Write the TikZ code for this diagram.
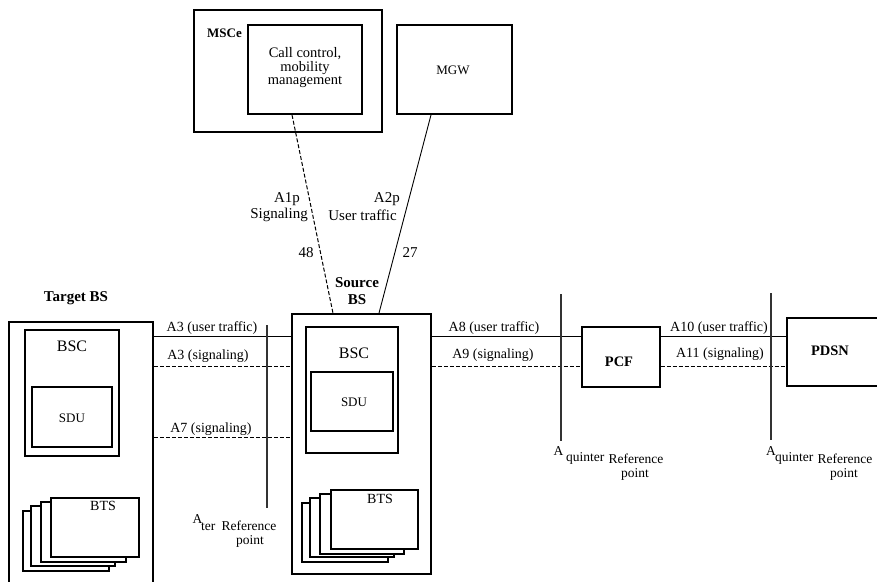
\documentclass[tikz,border=0pt]{standalone}
\usepackage{fontspec}
\setmainfont{Liberation Serif}
\begin{document}
\begin{tikzpicture}[x=1pt,y=-1pt,
  thickbox/.style={draw, line width=1.8pt, rectangle, inner sep=0pt},
  thinbox/.style={draw, line width=1.1pt, rectangle, inner sep=0pt, fill=white},
  lbl/.style={font=\fontsize{14}{16}\selectfont, inner sep=0pt},
  biglbl/.style={font=\fontsize{15}{17}\selectfont, inner sep=0pt},
  blbl/.style={font=\bfseries\fontsize{14.5}{17}\selectfont, inner sep=0pt},
  sig/.style={line width=1pt, dash pattern=on 4pt off 2pt},
  usr/.style={line width=0.9pt},
  refline/.style={line width=1.1pt, black!80},
]
\useasboundingbox (0,0) rectangle (877,581);
\clip (0,0) rectangle (877,581);

% ---- MSCe and MGW
\node[thickbox, minimum width=188pt, minimum height=122pt] (msce) at (288,71) {};
\node[thickbox, minimum width=114pt, minimum height=89pt] (cc) at (305,69.5) {};
\node[blbl, font=\bfseries\fontsize{13}{15}\selectfont] (mscelbl) at (224.5,33) {MSCe};
\node[lbl, align=center, font=\fontsize{14.5}{13.5}\selectfont] (cctext) at (305,68) {Call control,\\mobility\\management};
\node[thickbox, minimum width=115pt, minimum height=89pt] (mgw) at (454.5,69.5) {};
\node[lbl, font=\fontsize{13}{14}\selectfont] (mgwlbl) at (453,70) {MGW};

% ---- Source BS
\node[thickbox, minimum width=139pt, minimum height=260pt] (sbs) at (361.5,444) {};
\node[thickbox, minimum width=92pt, minimum height=126pt] (sbsc) at (352,390) {};
\node[thinbox, minimum width=82pt, minimum height=59pt] (ssdu) at (352,401.5) {};
\node[lbl, font=\fontsize{16}{18}\selectfont] (sbsclbl) at (354,353) {BSC};
\node[lbl, font=\fontsize{13}{15}\selectfont] (ssdulbl) at (354,402) {SDU};
\node[thinbox, minimum width=86pt, minimum height=59pt] (sbts4) at (345,532.5) {};
\node[thinbox, minimum width=84pt, minimum height=59pt] (sbts3) at (352,527.5) {};
\node[thinbox, minimum width=84pt, minimum height=60pt] (sbts2) at (362,524) {};
\node[thinbox, minimum width=87pt, minimum height=59pt] (sbts1) at (374.5,519.5) {};
\node[lbl, font=\fontsize{14}{16}\selectfont] (sbtslbl) at (380,499) {BTS};
\node[blbl, align=center, font=\bfseries\fontsize{15}{17}\selectfont] (sbslbl) at (357,291) {Source\\BS};

% ---- Target BS
\node[thickbox, minimum width=144pt, minimum height=278pt] (tbs) at (81,461) {};
\node[thickbox, minimum width=94pt, minimum height=126pt] (tbsc) at (72,393) {};
\node[thinbox, minimum width=80pt, minimum height=60pt] (tsdu) at (72,417) {};
\node[lbl, font=\fontsize{16}{18}\selectfont] (tbsclbl) at (72,346) {BSC};
\node[lbl, font=\fontsize{13}{15}\selectfont] (tsdulbl) at (72,418) {SDU};
\node[thinbox, minimum width=86pt, minimum height=60pt] (tbts4) at (66,541) {};
\node[thinbox, minimum width=84pt, minimum height=60pt] (tbts3) at (73,536) {};
\node[thinbox, minimum width=85pt, minimum height=60pt] (tbts2) at (83.5,532) {};
\node[thinbox, minimum width=88pt, minimum height=59pt] (tbts1) at (95,527.5) {};
\node[lbl, font=\fontsize{14}{16}\selectfont] (tbtslbl) at (103,506) {BTS};
\node[blbl, font=\bfseries\fontsize{15}{17}\selectfont] (tbslbl) at (76,298) {Target BS};

% ---- PCF and PDSN
\node[thickbox, line width=1.3pt, minimum width=78pt, minimum height=60pt] (pcf) at (621,357) {};
\node[blbl] (pcflbl) at (619,362) {PCF};
\node[thickbox, line width=1.3pt, minimum width=113pt, minimum height=68pt] (pdsn) at (843.5,352) {};
\node[blbl] (pdsnlbl) at (830,351) {PDSN};

% ---- levels
\coordinate (yu) at (0,336.5);
\coordinate (ys) at (0,366);
\coordinate (y7) at (0,437);

% ---- A1p / A2p
\draw[sig] ([xshift=-13pt]cc.south) -- ([xshift=-28.5pt]sbs.north);
\draw[usr] ([xshift=-23.5pt]mgw.south) -- ([xshift=17.5pt]sbs.north);
\node[biglbl] (a1p) at (287,199) {A1p};
\node[biglbl, anchor=east] (a1sig) at (308,215) {Signaling};
\node[biglbl] (n48) at (306,253) {48};
\node[biglbl, anchor=east] (a2p) at (400,199) {A2p};
\node[biglbl, anchor=east] (a2usr) at (397,215) {User traffic};
\node[biglbl] (n27) at (410,253) {27};

% ---- Target <-> Source
\draw[usr] (tbs.east |- yu) -- (sbs.west |- yu);
\draw[sig] (tbs.east |- ys) -- (sbs.west |- ys);
\draw[sig] (tbs.east |- y7) -- (sbs.west |- y7);
\node[lbl] (a3u) at (212,328) {A3 (user traffic)};
\node[lbl] (a3s) at (208,356) {A3 (signaling)};
\node[lbl] (a7s) at (211,429) {A7 (signaling)};

% ---- Source <-> PCF <-> PDSN
\draw[usr] (sbs.east |- yu) -- (pcf.west |- yu);
\draw[sig] (sbs.east |- ys) -- (pcf.west |- ys);
\draw[usr] (pcf.east |- yu) -- (pdsn.west |- yu);
\draw[sig] (pcf.east |- ys) -- (pdsn.west |- ys);
\node[lbl] (a8u) at (494,328) {A8 (user traffic)};
\node[lbl] (a9s) at (493,355) {A9 (signaling)};
\node[lbl] (a10u) at (719,328) {A10 (user traffic)};
\node[lbl] (a11s) at (720,354) {A11 (signaling)};

% ---- reference points
\coordinate (atertop) at (267,325);
\coordinate (aterbot) at (267,508);
\draw[refline] (atertop) -- (aterbot);
\coordinate (aq1top) at (561,294);
\coordinate (aq1bot) at (561,441);
\draw[refline] (aq1top) -- (aq1bot);
\coordinate (aq2top) at (771,293);
\coordinate (aq2bot) at (771,440);
\draw[refline] (aq2top) -- (aq2bot);

\tikzset{rlbl/.style={font=\fontsize{13.5}{15}\selectfont, inner sep=0pt, anchor=base}}
\node[rlbl] (aterA) at (197.5,523) {A};
\node[rlbl, anchor=base west] (aterT) at (201,530) {ter};
\node[rlbl] (aterR) at (249,530) {Reference};
\node[rlbl] (aterP) at (250,544) {point};

\node[rlbl] (aq1A) at (558.5,455) {A};
\node[rlbl, anchor=base west] (aq1Q) at (566,461) {quinter};
\node[rlbl] (aq1R) at (636,463) {Reference};
\node[rlbl] (aq1P) at (635,477) {point};

\node[rlbl] (aq2A) at (771,455) {A};
\node[rlbl, anchor=base west] (aq2Q) at (775,461) {quinter};
\node[rlbl] (aq2R) at (845,463) {Reference};
\node[rlbl] (aq2P) at (844,477) {point};
\end{tikzpicture}
\end{document}
